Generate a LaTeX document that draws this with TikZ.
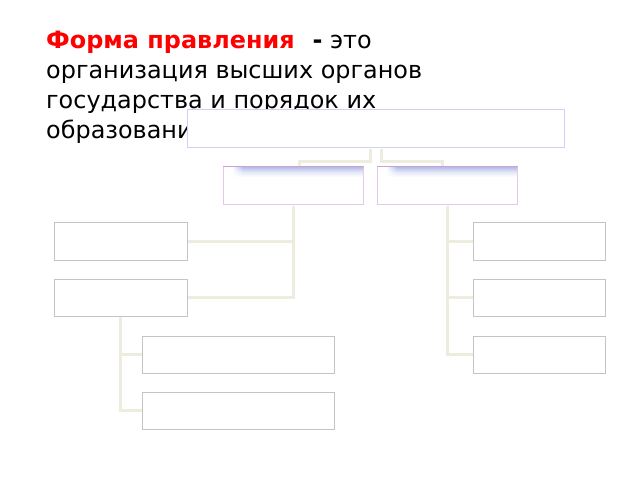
\documentclass[tikz,border=0pt]{standalone}
\usepackage{fontspec}
\setmainfont{DejaVu Sans}
\usetikzlibrary{fadings}
\tikzfading[name=whfade, left color=transparent!0, right color=transparent!100]
\definecolor{conncol}{RGB}{238,236,222}
\definecolor{topcol}{RGB}{208,208,244}
\definecolor{midcol}{RGB}{228,200,234}
\definecolor{boxcol}{RGB}{196,196,196}
\definecolor{stripcol}{RGB}{178,190,232}
\begin{document}
\begin{tikzpicture}[x=1pt,y=-1pt,
  conn/.style={draw=conncol, line width=3pt},
  gbox/.style={draw=boxcol, line width=0.9pt, fill=white, anchor=north west, inner sep=0pt},
  topbox/.style={draw=topcol, line width=1pt, fill=white, anchor=north west, inner sep=0pt},
  midbox/.style={draw=midcol, line width=1pt, fill=white, anchor=north west, inner sep=0pt},
  ttl/.style={anchor=base west, inner sep=0pt, font=\fontsize{23.9}{28}\selectfont}]
\useasboundingbox (0,0) rectangle (640,480);
\fill[white] (0,0) rectangle (640,480);
% title text
\node[ttl] (t1) at (46,48) {\textcolor{red}{\bfseries Форма правления}\hspace{18pt}\textbf{-} это};
\node[ttl] (t2) at (46,78) {организация высших органов};
\node[ttl] (t3) at (46,108) {государства и порядок их};
\node[ttl] (t4) at (46,138) {образования};
% boxes
\node[topbox, minimum width=377pt, minimum height=38pt] (top) at (187,109) {};
\node[midbox, minimum width=140pt, minimum height=38pt] (l2l) at (223,166) {};
\node[midbox, minimum width=140pt, minimum height=38pt] (l2r) at (377,166) {};
\node[gbox, minimum width=133pt, minimum height=38pt] (A) at (54,222) {};
\node[gbox, minimum width=133pt, minimum height=37pt] (B) at (54,279) {};
\node[gbox, minimum width=192pt, minimum height=37pt] (C) at (142,336) {};
\node[gbox, minimum width=192pt, minimum height=37pt] (D) at (142,392) {};
\node[gbox, minimum width=132pt, minimum height=38pt] (R1) at (473,222) {};
\node[gbox, minimum width=132pt, minimum height=37pt] (R2) at (473,279) {};
\node[gbox, minimum width=132pt, minimum height=37pt] (R3) at (473,336) {};
% connectors
\draw[conn] ([xshift=-6pt,yshift=-0.5pt]top.south) -- ++(0,13) -| ([xshift=6pt,yshift=0.5pt]l2l.north);
\draw[conn] ([xshift=5pt,yshift=-0.5pt]top.south) -- ++(0,13) -| ([xshift=-5pt,yshift=0.5pt]l2r.north);
\draw[conn] ([yshift=-0.5pt]l2l.south) |- ([xshift=0.5pt]A.east);
\draw[conn] ([yshift=-0.5pt]l2l.south) |- ([xshift=0.5pt]B.east);
\draw[conn] ([yshift=-0.5pt]l2r.south) |- ([xshift=-0.5pt]R1.west);
\draw[conn] ([yshift=-0.5pt]l2r.south) |- ([xshift=-0.5pt]R2.west);
\draw[conn] ([yshift=-0.5pt]l2r.south) |- ([xshift=-0.5pt]R3.west);
\draw[conn] ([yshift=-0.5pt]B.south) |- ([xshift=-0.5pt]C.west);
\draw[conn] ([yshift=-0.5pt]B.south) |- ([xshift=-0.5pt]D.west);
% gradient strips
\shade[top color=stripcol, bottom color=white, middle color=stripcol!35] ([xshift=9pt,yshift=-1pt]l2l.north west) rectangle ([xshift=-1pt,yshift=-11pt]l2l.north east);
\fill[white, path fading=whfade] ([xshift=9pt,yshift=-1pt]l2l.north west) rectangle ([xshift=20pt,yshift=-11pt]l2l.north west);
\shade[top color=stripcol, bottom color=white, middle color=stripcol!35] ([xshift=9pt,yshift=-1pt]l2r.north west) rectangle ([xshift=-1pt,yshift=-11pt]l2r.north east);
\fill[white, path fading=whfade] ([xshift=9pt,yshift=-1pt]l2r.north west) rectangle ([xshift=20pt,yshift=-11pt]l2r.north west);
\draw[midcol!80!violet, line width=1pt] (l2l.north west) -- (l2l.north east);
\draw[midcol!80!violet, line width=1pt] (l2r.north west) -- (l2r.north east);
\end{tikzpicture}
\end{document}
